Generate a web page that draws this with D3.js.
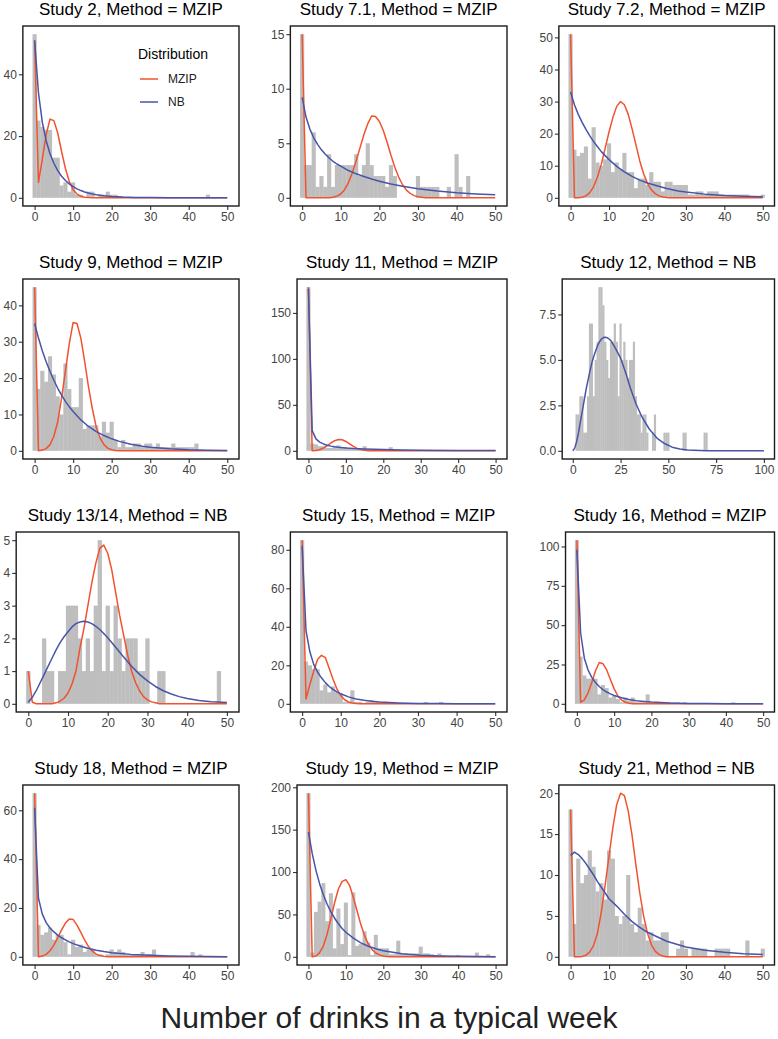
<!DOCTYPE html>
<html><head><meta charset="utf-8">
<script src="https://cdn.jsdelivr.net/npm/d3@7"></script>
<style>body{margin:0;background:#fff} svg text{font-family:"Liberation Sans",Arial,sans-serif}</style>
</head><body><svg id="c" width="778" height="1039"></svg>
<script>
// ---------- data ----------
const titles = ["Study 2, Method = MZIP","Study 7.1, Method = MZIP","Study 7.2, Method = MZIP",
  "Study 9, Method = MZIP","Study 11, Method = MZIP","Study 12, Method = NB",
  "Study 13/14, Method = NB","Study 15, Method = MZIP","Study 16, Method = MZIP",
  "Study 18, Method = MZIP","Study 19, Method = MZIP","Study 21, Method = NB"];
const xAxisTitle = "Number of drinks in a typical week";
const legendTitle = "Distribution";
const seriesNames = ["MZIP","NB"];
const xTicks50 = [0,10,20,30,40,50];
const xTicks100 = [0,25,50,75,100];

// histogram counts, index = number of drinks (0,1,2,...)
const s2Bars  = [53,25,23,22,22,13,13,4,5,2,5,1,1,0,2,2,0,1,1,2,1,1,0,0,0,0,0,0,0,0,0,0,0,0,0,0,0,0,0,0,0,0,0,0,0,1];
const s71Bars = [15,3,3,6,1,2,1,4,1,3,3,3,3,3,4,2,3,5,3,2,2,2,1,3,2,0,0,0,0,0,2,1,1,1,1,1,0,0,1,0,4,1,0,2];
const s72Bars = [51,15,13,14,16,6,22,11,10,12,17,8,11,9,14,8,8,3,6,6,4,8,5,5,2,5,5,4,4,4,4,1,1,2,2,1,2,2,2,1,1,1,1,1,1,1,1,0,0,0,1];
const s9Bars  = [45,17,22,19,26,21,15,10,24,17,12,12,20,6,7,7,7,4,8,5,8,3,1,3,1,1,2,2,1,2,2,1,2,1,1,1,2,1,1,1,1,1,2];
const s11Bars = [178,8,7,5,5,3,3,5,6,3,4,2,3,2,1,5,1,2,2,1,2,1,4,1,1,1,1,1,1,1,1,0,0,0,0,0,1];
const s12Bars = [0,0,2,2,3,3,1,1,3,7,7,3,5,6,9,9,8,6,5,4,6,6,7,6,3,7,5,6,5,4,5,5,6,3,2,2,1,2,2,1,0,0,1,2,0,0,0,0,1,1,1,0,0,0,0,0,0,0,1,1,0,0,0,0,0,0,0,0,0,1,1];
const s1314Bars = [1,0,0,0,2,1,1,0,1,1,3,3,3,2,1,2,1,3,5,1,3,1,3,2,1,2,2,2,1,1,2,0,0,1,1,0,0,0,0,0,0,0,0,0,0,0,0,0,1];
const s15Bars = [85,22,20,18,18,7,10,6,9,6,5,1,1,7,1,1,0,1,2,1,1,1,0,0,0,0,0,0,0,0,0,0,1,0,0,0,1];
const s16Bars = [104,30,18,16,16,16,6,12,10,4,5,3,1,4,2,4,1,1,1,6,1,0,1,0,0,1,1,1,0,1,0,0,0,0,0,0,0,0,0,0,0,0,1];
const s18Bars = [67,13,9,10,12,7,9,9,6,1,7,4,5,2,3,3,1,1,0,1,3,2,3,2,1,1,1,1,2,1,1,3,0,0,0,0,0,0,0,0,0,2,0,1];
const s19Bars = [193,5,53,65,87,42,75,10,57,15,64,2,76,13,15,30,17,2,26,10,10,10,3,3,19,4,4,3,4,4,12,4,4,3,2,4,2,1,1,1,2,1,1,1,1,5,1,1,3];
const s21Bars = [18,4,12,9,10,13,11,8,9,7,13,12,5,4,5,10,4,3,6,4,2,3,2,2,3,3,0,0,1,2,1,0,1,1,1,1,0,0,1,1,1,1,0,0,0,0,2,0,0,0,1];

// fitted curves, [drinks, expected count]
const s2Mzip = [[0,51],[1,5],[2,12.5],[3,20.5],[4,25.5],[5,25],[6,21],[7,15],[8,9.5],[9,5.3],[10,2.6],[11,1.2],[12,0.5],[13,0.2],[14,0.07],[15,0],[50,0]];
const s2Nb   = [[0,51],[1,34],[2,24.5],[3,18.5],[4,14.3],[5,11.2],[6,8.8],[7,7],[8,5.6],[9,4.5],[10,3.6],[11,2.9],[12,2.35],[13,1.9],[14,1.55],[15,1.25],[16,1.02],[18,0.68],[20,0.45],[23,0.25],[26,0.14],[30,0.07],[35,0.03],[40,0.01],[50,0]];
const s71Mzip = [[0,15],[1,0],[7,0],[8,0.05],[9,0.15],[10,0.35],[11,0.75],[12,1.4],[13,2.3],[14,3.4],[15,4.6],[16,5.8],[17,6.8],[18,7.5],[19,7.45],[20,7.0],[21,6.2],[22,5.1],[23,3.9],[24,2.8],[25,1.9],[26,1.2],[27,0.7],[28,0.4],[29,0.2],[30,0.1],[31,0.05],[32,0],[50,0]];
const s71Nb   = [[0,9.2],[1,7.4],[2,6.3],[3,5.5],[4,4.9],[5,4.4],[6,4.0],[7,3.65],[8,3.35],[9,3.1],[10,2.9],[12,2.5],[14,2.2],[16,1.95],[18,1.72],[20,1.52],[23,1.27],[26,1.06],[30,0.84],[35,0.63],[40,0.47],[45,0.36],[50,0.28]];
const s72Mzip = [[0,51],[1,0],[2,0.05],[3,0.2],[4,0.6],[5,1.6],[6,3.5],[7,6.5],[8,10.5],[9,15.5],[10,20.5],[11,25],[12,28.5],[13,30],[14,29],[15,26],[16,21.5],[17,16.5],[18,11.5],[19,7.5],[20,4.5],[21,2.5],[22,1.3],[23,0.6],[24,0.25],[25,0.1],[26,0],[50,0]];
const s72Nb   = [[0,33],[1,29],[2,26],[3,23.5],[4,21.3],[5,19.3],[6,17.5],[7,15.9],[8,14.4],[10,11.9],[12,9.8],[14,8.1],[16,6.7],[18,5.5],[20,4.6],[22,3.9],[25,2.9],[28,2.15],[30,1.8],[35,1.15],[40,0.75],[45,0.5],[50,0.33]];
const s9Mzip = [[0,45],[1,0],[2,0.2],[3,0.6],[4,1.7],[5,4],[6,8],[7,14.5],[8,22],[9,29.5],[10,35.3],[11,35],[12,31],[13,24.5],[14,17.5],[15,11.5],[16,6.5],[17,3.5],[18,1.7],[19,0.7],[20,0.3],[21,0.1],[22,0],[50,0]];
const s9Nb   = [[0,35],[1,31],[2,27.5],[3,24.5],[4,21.8],[5,19.4],[6,17.2],[7,15.3],[8,13.6],[9,12.1],[10,10.8],[12,8.5],[14,6.7],[16,5.3],[18,4.2],[20,3.3],[22,2.6],[25,1.8],[28,1.25],[30,1.0],[35,0.55],[40,0.3],[45,0.17],[50,0.1]];
const s11Mzip = [[0,178],[1,0],[2,0.3],[3,1.2],[4,3],[5,5.5],[6,8.5],[7,11],[8,12.3],[9,12],[10,10.2],[11,7.5],[12,4.8],[13,2.7],[14,1.3],[15,0.6],[16,0.2],[17,0],[50,0]];
const s11Nb   = [[0,176],[1,22],[2,13],[3,9.5],[4,7.5],[5,6.1],[6,5.1],[7,4.4],[8,3.8],[10,3.0],[12,2.45],[15,1.9],[20,1.3],[25,0.95],[30,0.7],[40,0.4],[50,0.25]];
const s12Nb   = [[0,0],[1,0.15],[2,0.5],[3,1.0],[4,1.6],[5,2.2],[6,2.8],[7,3.4],[8,3.9],[9,4.4],[10,4.85],[11,5.2],[12,5.5],[13,5.8],[14,6.0],[15,6.15],[16,6.23],[17,6.25],[18,6.22],[19,6.15],[20,6.05],[22,5.7],[25,5.1],[28,4.2],[30,3.5],[33,2.6],[36,1.9],[40,1.2],[44,0.7],[48,0.4],[52,0.2],[56,0.1],[60,0.05],[70,0.01],[80,0],[100,0]];
const s1314Mzip = [[0,1.0],[1,0.05],[2,0],[6,0],[7,0.03],[8,0.08],[9,0.17],[10,0.33],[11,0.6],[12,1.0],[13,1.7],[14,2.3],[15,3.0],[16,3.7],[17,4.3],[18,4.75],[19,4.85],[20,4.6],[21,4.1],[22,3.4],[23,2.7],[24,2.1],[25,1.5],[26,1.0],[27,0.65],[28,0.4],[29,0.22],[30,0.12],[31,0.06],[32,0.03],[33,0],[50,0]];
const s1314Nb   = [[0,0.05],[1,0.2],[2,0.4],[3,0.65],[4,0.9],[5,1.15],[6,1.4],[7,1.65],[8,1.87],[9,2.05],[10,2.2],[11,2.35],[12,2.45],[13,2.5],[14,2.52],[15,2.5],[16,2.45],[17,2.37],[18,2.27],[19,2.15],[20,2.02],[22,1.73],[24,1.43],[26,1.15],[28,0.9],[30,0.7],[32,0.53],[34,0.4],[36,0.3],[38,0.22],[40,0.16],[43,0.1],[46,0.065],[50,0.04]];
const s15Mzip = [[0,85],[1,2.5],[2,10],[3,17],[4,23],[5,25.2],[6,24],[7,18.5],[8,12.8],[9,7.8],[10,4.3],[11,2.1],[12,0.95],[13,0.4],[14,0.15],[15,0.05],[16,0],[50,0]];
const s15Nb   = [[0,82],[1,38],[2,27],[3,20.5],[4,16.5],[5,13.5],[6,11],[7,9],[8,7.5],[9,6.2],[10,5.2],[12,3.6],[14,2.5],[16,1.8],[18,1.3],[20,0.9],[25,0.45],[30,0.22],[35,0.11],[40,0.06],[50,0.02]];
const s16Mzip = [[0,104],[1,1],[2,2.5],[3,7],[4,13.5],[5,21],[6,26.3],[7,25.5],[8,21.5],[9,15.5],[10,9.5],[11,5],[12,2.4],[13,1],[14,0.4],[15,0.1],[16,0],[50,0]];
const s16Nb   = [[0,98],[1,45],[2,29],[3,21.5],[4,16.8],[5,13.5],[6,11],[7,9],[8,7.5],[9,6.3],[10,5.3],[12,3.8],[14,2.8],[16,2.0],[18,1.5],[20,1.1],[25,0.55],[30,0.28],[35,0.15],[40,0.08],[50,0.02]];
const s18Mzip = [[0,67],[1,0],[2,0.3],[3,1],[4,2.5],[5,4.8],[6,7.8],[7,11],[8,13.8],[9,15.5],[10,15.3],[11,13],[12,10],[13,6.8],[14,4.2],[15,2.3],[16,1.1],[17,0.5],[18,0.2],[19,0],[50,0]];
const s18Nb   = [[0,61],[1,24],[2,17.5],[3,14],[4,11.8],[5,10.2],[6,8.9],[7,7.8],[8,6.9],[9,6.1],[10,5.4],[12,4.3],[14,3.4],[16,2.7],[18,2.15],[20,1.7],[25,1.0],[30,0.6],[35,0.35],[40,0.2],[45,0.12],[50,0.07]];
const s19Mzip = [[0,193],[1,0],[2,1],[3,5],[4,13],[5,27],[6,45],[7,64],[8,80],[9,89],[10,91],[11,84],[12,70],[13,54],[14,38],[15,25],[16,15],[17,8.5],[18,4.5],[19,2.2],[20,1],[21,0.4],[22,0.1],[23,0],[50,0]];
const s19Nb   = [[0,147],[1,122],[2,102],[3,86],[4,73],[5,62],[6,53],[7,45.5],[8,39],[9,33.5],[10,29],[12,22],[14,16.5],[16,12.5],[18,9.5],[20,7.2],[25,3.7],[30,1.9],[35,1.0],[40,0.55],[45,0.3],[50,0.17]];
const s21Mzip = [[0,18],[1,0],[2,0.01],[3,0.05],[4,0.2],[5,0.6],[6,1.4],[7,2.9],[8,5.5],[9,8.8],[10,12.3],[11,15.8],[12,18.6],[13,20],[14,19.7],[15,17.8],[16,14.8],[17,11.2],[18,7.8],[19,5],[20,2.9],[21,1.5],[22,0.7],[23,0.3],[24,0.1],[25,0],[50,0]];
const s21Nb   = [[0,12.4],[1,12.8],[2,12.5],[3,12.0],[4,11.4],[5,10.7],[6,10],[7,9.2],[8,8.5],[9,7.8],[10,7.1],[12,6.2],[14,5.2],[16,4.3],[18,3.6],[20,3.0],[25,1.9],[30,1.2],[35,0.8],[40,0.55],[45,0.38],[50,0.27]];

// y tick values per panel
const s2YTicks = [0,20,40], s71YTicks = [0,5,10,15], s72YTicks = [0,10,20,30,40,50];
const s9YTicks = [0,10,20,30,40], s11YTicks = [0,50,100,150], s12YTicks = [0,2.5,5,7.5];
const s1314YTicks = [0,1,2,3,4,5], s15YTicks = [0,20,40,60,80], s16YTicks = [0,25,50,75,100];
const s18YTicks = [0,20,40,60], s19YTicks = [0,50,100,150,200], s21YTicks = [0,5,10,15,20];

const panels = [
  {bars:s2Bars, mzip:s2Mzip, nb:s2Nb, yTicks:s2YTicks, xTicks:xTicks50, xMax:50.5, legend:true},
  {bars:s71Bars, mzip:s71Mzip, nb:s71Nb, yTicks:s71YTicks, xTicks:xTicks50, xMax:50.5},
  {bars:s72Bars, mzip:s72Mzip, nb:s72Nb, yTicks:s72YTicks, xTicks:xTicks50, xMax:50.5},
  {bars:s9Bars, mzip:s9Mzip, nb:s9Nb, yTicks:s9YTicks, xTicks:xTicks50, xMax:50.5},
  {bars:s11Bars, mzip:s11Mzip, nb:s11Nb, yTicks:s11YTicks, xTicks:xTicks50, xMax:50.5},
  {bars:s12Bars, mzip:null, nb:s12Nb, yTicks:s12YTicks, xTicks:xTicks100, xMax:100.5, fmt:d3.format(".1f")},
  {bars:s1314Bars, mzip:s1314Mzip, nb:s1314Nb, yTicks:s1314YTicks, xTicks:xTicks50, xMax:50.5},
  {bars:s15Bars, mzip:s15Mzip, nb:s15Nb, yTicks:s15YTicks, xTicks:xTicks50, xMax:50.5},
  {bars:s16Bars, mzip:s16Mzip, nb:s16Nb, yTicks:s16YTicks, xTicks:xTicks50, xMax:50.5},
  {bars:s18Bars, mzip:s18Mzip, nb:s18Nb, yTicks:s18YTicks, xTicks:xTicks50, xMax:50.5},
  {bars:s19Bars, mzip:s19Mzip, nb:s19Nb, yTicks:s19YTicks, xTicks:xTicks50, xMax:50.5},
  {bars:s21Bars, mzip:s21Mzip, nb:s21Nb, yTicks:s21YTicks, xTicks:xTicks50, xMax:50.5}
];

// ---------- layout / style ----------
const colBase = [9.5, 277, 545.5], colRight = [239, 507, 774.5];
const rowTop = [26, 279, 532, 785], H = 180;
const RED = "#F2522E", BLUE = "#4655A8", BAR = "#BEBEBE";
const svg = d3.select("#c");
const meas = svg.append("text").attr("font-size", 12).attr("x", -100).attr("y", -100);
const tw = s => { meas.text(s); return meas.node().getComputedTextLength(); };

panels.forEach((p, i) => {
  const r = Math.floor(i / 3), c = i % 3;
  const fmt = p.fmt || d3.format("d");
  const w = d3.max(p.yTicks.map(fmt), tw);
  const left = colBase[c] + w, right = colRight[c], top = rowTop[r], bottom = top + H;
  const ex = (p.xMax + 0.5) * 0.05;
  const x = d3.scaleLinear().domain([-0.5 - ex, p.xMax + ex]).range([left, right]);
  const M = d3.max([d3.max(p.bars), p.mzip ? d3.max(p.mzip, d => d[1]) : 0, d3.max(p.nb, d => d[1])]);
  const y = d3.scaleLinear().domain([-0.05 * M, 1.05 * M]).range([bottom, top]);
  const g = svg.append("g");
  const cid = "clip" + i;
  g.append("clipPath").attr("id", cid).append("rect")
    .attr("x", left).attr("y", top).attr("width", right - left).attr("height", H);
  const plot = g.append("g").attr("clip-path", `url(#${cid})`);
  plot.append("g").selectAll("rect").data(p.bars.map((v, k) => [k, v]).filter(d => d[1] > 0))
    .join("rect")
    .attr("x", d => x(d[0] - 0.5) - 0.15).attr("width", d => x(d[0] + 0.5) - x(d[0] - 0.5) + 0.3)
    .attr("y", d => y(d[1])).attr("height", d => y(0) - y(d[1]))
    .attr("fill", BAR);
  const line = d3.line().x(d => x(d[0])).y(d => y(d[1]));
  if (p.mzip) plot.append("path").attr("d", line(p.mzip)).attr("fill", "none")
    .attr("stroke", RED).attr("stroke-width", 1.5).attr("stroke-linejoin", "round");
  plot.append("path").attr("d", line(p.nb)).attr("fill", "none")
    .attr("stroke", BLUE).attr("stroke-width", 1.5).attr("stroke-linejoin", "round");

  const ya = g.append("g").attr("transform", `translate(${left},0)`)
    .call(d3.axisLeft(y).tickValues(p.yTicks).tickFormat(fmt).tickSize(4).tickPadding(2));
  const xa = g.append("g").attr("transform", `translate(0,${bottom})`)
    .call(d3.axisBottom(x).tickValues(p.xTicks).tickFormat(d3.format("d")).tickSize(4).tickPadding(2));
  [ya, xa].forEach(a => {
    a.select(".domain").remove();
    a.selectAll(".tick line").attr("stroke", "#333").attr("stroke-width", 1.1);
    a.selectAll(".tick text").attr("fill", "#444").attr("font-size", 12)
      .attr("font-family", '"Liberation Sans", Arial, sans-serif');
  });
  g.append("rect").attr("x", left).attr("y", top).attr("width", right - left).attr("height", H)
    .attr("fill", "none").attr("stroke", "#1a1a1a").attr("stroke-width", 1.4);
  g.append("text").attr("x", (left + right) / 2).attr("y", top - 11).attr("text-anchor", "middle")
    .attr("font-size", 17).attr("fill", "#000").text(titles[i]);

  if (p.legend) {
    const lg = g.append("g");
    lg.append("text").attr("x", 138).attr("y", 59).attr("font-size", 14).attr("fill", "#000").text(legendTitle);
    [RED, BLUE].forEach((col, k) => {
      const yy = 79 + k * 23;
      lg.append("line").attr("x1", 140).attr("x2", 158).attr("y1", yy).attr("y2", yy)
        .attr("stroke", col).attr("stroke-width", 1.5);
      lg.append("text").attr("x", 168).attr("y", yy + 4.2).attr("font-size", 12).attr("fill", "#222").text(seriesNames[k]);
    });
  }
});
meas.remove();
svg.append("text").attr("x", 389).attr("y", 1028).attr("text-anchor", "middle")
  .attr("font-size", 30).attr("fill", "#222").text(xAxisTitle);
</script></body></html>
